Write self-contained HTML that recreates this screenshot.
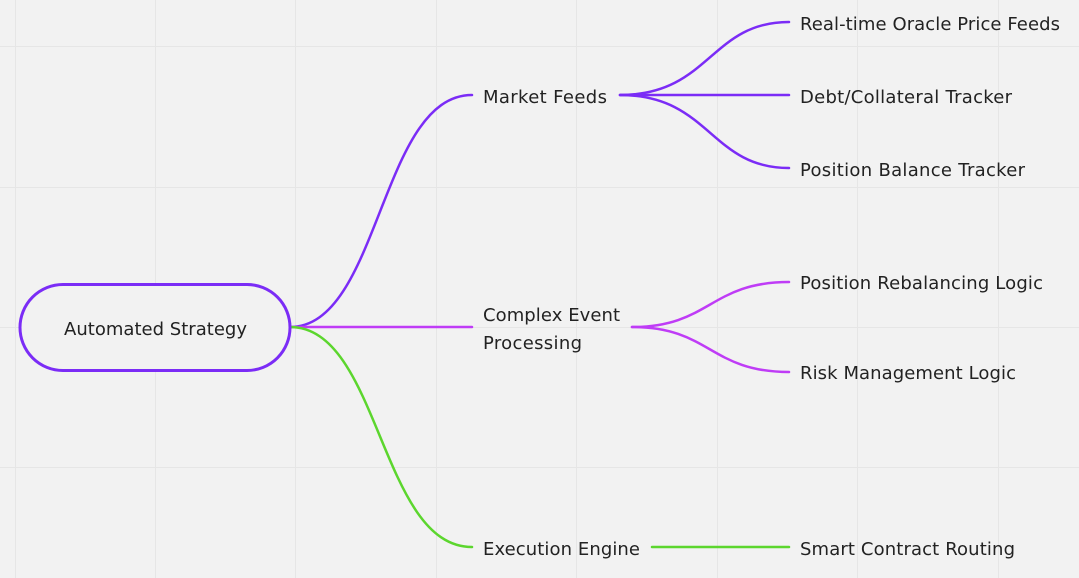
<!DOCTYPE html>
<html><head><style>body{margin:0;background:#f2f2f2}svg{display:block}text{font-family:"DejaVu Sans","Liberation Sans",sans-serif;font-size:18px;fill:#222}</style></head><body>
<svg width="1079" height="578" viewBox="0 0 1079 578">
<rect width="1079" height="578" fill="#f2f2f2"/>
<g stroke="#e6e6e6" stroke-width="1">
<line x1="15.5" y1="0" x2="15.5" y2="578"/><line x1="155.5" y1="0" x2="155.5" y2="578"/><line x1="295.5" y1="0" x2="295.5" y2="578"/><line x1="436.5" y1="0" x2="436.5" y2="578"/><line x1="576.5" y1="0" x2="576.5" y2="578"/><line x1="717.5" y1="0" x2="717.5" y2="578"/><line x1="857.5" y1="0" x2="857.5" y2="578"/><line x1="998.5" y1="0" x2="998.5" y2="578"/>
<line x1="0" y1="46.5" x2="1079" y2="46.5"/><line x1="0" y1="187.5" x2="1079" y2="187.5"/><line x1="0" y1="327.5" x2="1079" y2="327.5"/><line x1="0" y1="467.5" x2="1079" y2="467.5"/>
</g>
<g fill="none" stroke-width="2.5" stroke-linecap="round">
<path d="M290 327 C380 327 380 95 472 95" stroke="#7b2cf6"/>
<path d="M290 327 L472 327" stroke="#bf3cf6"/>
<path d="M290 327 C380 327 380 547 472 547" stroke="#5cd62e"/>
<path d="M620 95 C710 95 710 22 789 22" stroke="#7b2cf6"/>
<path d="M620 95 L789 95" stroke="#7b2cf6"/>
<path d="M620 95 C710 95 710 168 789 168" stroke="#7b2cf6"/>
<path d="M632 327 C710 327 710 282 789 282" stroke="#bf3cf6"/>
<path d="M632 327 C710 327 710 372 789 372" stroke="#bf3cf6"/>
<path d="M652 547 L789 547" stroke="#5cd62e"/>
</g>
<rect x="20" y="284.5" width="270" height="86" rx="43" fill="#f2f2f2" stroke="#7b2cf6" stroke-width="3"/>
<text x="64" y="335" textLength="183">Automated Strategy</text>
<text x="483" y="103" textLength="124">Market Feeds</text>
<text x="483" y="321" textLength="137">Complex Event</text>
<text x="483" y="349" textLength="99">Processing</text>
<text x="483" y="555" textLength="157">Execution Engine</text>
<text x="800" y="30" textLength="260">Real-time Oracle Price Feeds</text>
<text x="800" y="103" textLength="212">Debt/Collateral Tracker</text>
<text x="800" y="176" textLength="225">Position Balance Tracker</text>
<text x="800" y="289" textLength="243">Position Rebalancing Logic</text>
<text x="800" y="379" textLength="216">Risk Management Logic</text>
<text x="800" y="555" textLength="215">Smart Contract Routing</text>
</svg>
</body></html>
